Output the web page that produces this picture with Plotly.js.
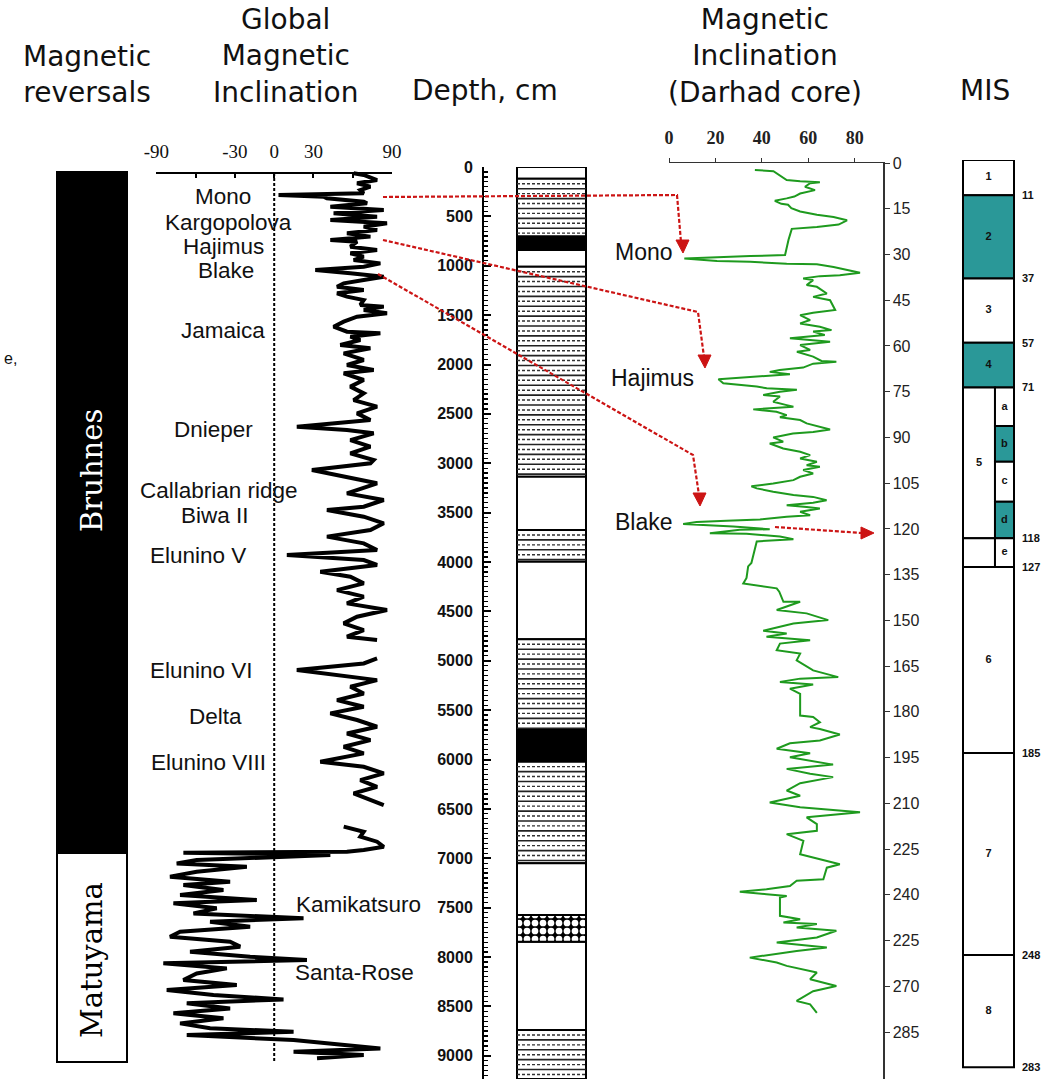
<!DOCTYPE html>
<html><head><meta charset="utf-8">
<script src="https://cdn.plot.ly/plotly-3.0.1.min.js"></script>
<style>html,body{margin:0;padding:0;background:#fff}</style>
</head><body><div id="chart" style="width:1056px;height:1079px"></div>
<script>
const W = 1056, H = 1079;
const px = x => x / W, py = y => 1 - y / H;

// ---------------- DATA ----------------
// Magnetic reversals (on depth scale, cm)
const reversalNames = ['Bruhnes', 'Matuyama'];
const reversalTop = [51, 6947];
const reversalBottom = [6947, 9063];
const reversalFill = ['black', 'white'];

// Global magnetic inclination (degrees) vs depth (cm); null = gap
const globalDepth = [64,81,132,165,199,233,267,284,300,317,351,368,402,435,469,503,537,570,604,638,672,705,739,756,807,841,874,908,942,976,1009,1043,1077,1111,1144,1178,1212,1246,1279,1313,1347,1397,1414,1448,1482,1516,1566,1617,1668,1684,1718,1752,1803,1836,1887,1954,2005,2056,2089,2157,2224,2292,2360,2427,2495,2562,2630,2663,2697,2765,2832,2900,2967,
3001,3068,3136,3203,3305,3372,3440,3473,3541,3608,3676,3743,3811,3878,3929,3980,4030,4098,4149,4216,4284,4351,4419,4486,4554,4621,4689,4756,4790,null,
4976,5027,5094,5162,5196,5263,5331,5398,5466,5533,5600,5668,5736,5803,5871,5938,6022,6073,6141,6208,6276,6343,6411,6461,null,
6680,6731,6781,6832,6883,6917,6934,6944,6967,7018,7052,7085,7136,7186,7237,7271,7322,7372,7423,7456,7507,7558,7608,7642,7693,7743,7794,7845,7895,7946,7997,8030,8064,8115,8166,8233,8284,8334,8385,8429,8469,8520,8570,8621,8672,8722,8756,8790,8840,8891,8925,8958,8992,9026];
const globalIncl = [60.7,68.4,78.6,63.3,73.5,65.8,68.4,3.3,37.8,40.3,68.4,70.9,42.9,83.7,45.4,78.6,42.9,86.2,68.4,78.6,55.6,73.5,42.9,63.3,58.2,78.6,58.2,68.4,60.7,81.1,68.4,31.4,58.2,83.7,68.4,53.1,48.0,68.4,48.0,55.6,68.4,65.8,83.7,68.4,86.2,63.3,53.1,45.4,55.6,81.1,58.2,65.8,50.5,73.5,53.1,68.4,55.6,76.0,53.1,68.4,58.2,68.4,60.7,78.6,63.3,73.5,17.3,55.6,76.0,58.2,73.5,58.2,76.0,
73.5,28.8,55.6,78.6,55.6,83.7,68.4,40.3,68.4,83.7,73.5,40.3,68.4,78.6,9.7,68.4,78.6,35.2,58.2,68.4,48.0,68.4,55.6,86.2,63.3,53.1,68.4,55.6,78.6,null,
78.6,68.4,17.3,55.6,78.6,58.2,68.4,48.0,68.4,42.9,63.3,78.6,55.6,73.5,53.1,68.4,35.2,68.4,83.7,65.8,78.6,60.7,73.5,83.7,null,
53.1,68.4,65.8,78.6,83.7,68.4,55.6,-69.4,42.9,-59.2,-74.5,-20.9,-59.2,-79.6,-33.7,-69.4,-38.8,-71.9,-13.3,-77.0,-43.9,-61.7,22.4,-49.0,-18.4,-71.9,-79.6,-33.7,-26.0,-64.3,-18.4,25.0,-84.7,-36.2,-59.2,-69.4,-28.6,-82.1,-46.4,7.1,-66.8,-33.7,-77.0,-38.8,-71.9,-49.0,14.8,-66.8,14.8,55.6,81.1,14.8,68.4,32.7];

// Global excursion names and their depth (cm)
const globalEvents = ['Mono','Kargopolova','Hajimus','Blake','Jamaica','Dnieper','Callabrian ridge','Biwa II','Elunino V','Elunino VI','Delta','Elunino VIII','Kamikatsuro','Santa-Rose'];
const globalEventDepth = [301,567,810,1050,1658,2653,3276,3524,3929,5094,5567,6035,7473,8159];

// Lithology column (depth, cm)
const lithoTop =    [0,  120, 705, 840, 1010, 3136, 3676, 3997, 4783, 5701, 6022, 7051, 7575, 7845, 8739];
const lithoBottom = [120,705, 840, 1010,3136, 3676, 3997, 4783, 5701, 6022, 7051, 7575, 7845, 8739, 9235];
const lithoType = ['white','hatch','black','white','hatch','white','hatch','white','hatch','black','hatch','white','check','white','hatch'];
const depthTicks = [0,500,1000,1500,2000,2500,3000,3500,4000,4500,5000,5500,6000,6500,7000,7500,8000,8500,9000];

// Darhad core inclination (degrees) vs age (ka)
const darhadAge = [2.3,2.7,5.6,6.0,6.3,6.6,7.8,8.9,10,11,11.6,12.4,13.4,13.7,14.8,15.9,17,17.7,18.8,20.2,21,21.6,25.2,30.2,30.5,30.7,31.0,31.3,32.1,32.4,33,33.2,34.1,36,36.8,37.1,37.9,38.4,40,40.6,42.8,43.9,45,48.2,49.1,49.9,51.5,52.6,53.7,54.8,55.3,56.4,57.5,58.2,58.6,59.7,61.3,61.9,63.5,64.9,65.2,65.8,67.1,67.9,68.5,69.3,69.9,70.4,70.9,72.2,72.8,73.3,73.9,74.2,74.4,75,76.1,76.6,78.3,79.4,79.9,80.8,81.6,82.7,83.4,84.3,85.4,87.4,88.2,88.7,90,91.4,92,93.6,94.7,95.8,96.9,98,99.1,99.6,100.7,101.8,102.9,104,105.1,106,106.7,107.8,108.9,109.5,110.6,111.4,112.2,112.8,113.3,114.4,115.5,116,116.9,117.3,117.7,118.4,118.6,119.2,120.1,120.3,121.4,121.6,122.5,123.4,124.1,126.8,131.2,132.3,136.1,137.9,139.5,140.6,143.9,143.9,146.6,147.7,149.9,151,153.4,154.3,155.4,156.5,157.6,159.8,160.9,163.1,166.4,168.6,169.1,170.2,171,172.4,174.1,181.2,181.7,183.4,185,185.6,187.4,189.4,190.3,192.1,193.6,194.9,197.3,198.7,200.3,201.4,203.4,205.8,207.5,209.7,211.3,212.9,214.6,216.8,219,220.1,222.3,226.7,228.9,230,231.1,234.9,235.4,237.1,238.2,239,239.8,240.4,240.9,246.9,248,249.1,249.6,250.7,251.8,254,255.6,257.3,258.4,260,260.6,262.2,263.3,265.5,267.7,269.9,271.6,274.8,275.9,278.7];
const darhadIncl = [37,45,50.7,56.5,65,60.8,58.6,62.9,56.5,54,50.7,45.6,48.4,51.3,52.7,56.5,63.7,70.9,76.7,73.1,63.7,52.9,51.5,50,35,27.9,16.4,6.6,20.7,35,50.7,63.7,70.9,82.3,73.6,65,57.8,62.1,59.3,63.7,68,62.1,69.4,71.6,62.1,56.5,60.8,56.5,65,70,62.1,67.1,52.1,62.1,69.4,56.5,60.8,55.1,62.1,65.7,72.1,62.1,57.8,47.7,43.4,52.1,39.2,27.7,21.3,23.4,32,37.8,42.1,47.8,55.1,47.8,40.6,47.8,44.9,50.7,53.6,36.3,46.3,50.7,47.8,56.5,59.3,69.4,62.1,53.4,44.9,49.2,43.4,49.2,56.5,60.8,56.5,63.7,59.3,65,57.8,62.1,56.5,53.6,44.9,35.5,37.8,44.9,53.6,62.1,67.9,62.1,50.7,59.3,65,56.5,60.8,50.7,39.2,24.8,11.9,6.1,13.4,27.7,43.4,30.5,17.6,33.4,47.8,53.6,37.8,37,35.5,34.1,33.4,32,46.4,47.5,49.3,56.5,46.4,59.3,68.6,53.6,40.6,50.7,42,60.8,47.8,46.4,56.5,55,62.1,72.9,56.5,47.8,62.1,52.1,56.5,56.5,62.1,65,60.8,65,73.6,65,52.1,46.4,60.8,52.1,70.7,50.7,60.8,70.7,56.5,50.7,56.5,43.4,56.5,82.3,59.3,63.7,63.7,50.7,57.9,56.5,68,73.6,68,66.5,55,52.1,42,30.5,42,50.7,47.8,47.8,56.5,49.3,63.7,55,72.1,63.7,46.4,68,55,40.6,34.8,46.4,50.7,63.7,60.8,72.1,62.1,55,60.8,63.7];
const darhadEvents = ['Mono','Hajimus','Blake'];
const darhadEventAge = [29.2, 70.5, 117.7];
const ageTicks = [0,15,30,45,60,75,90,105,120,135,150,165,180,195,210,225,240,255,270,285];
const ageTickText = ['0','15','30','45','60','75','90','105','120','135','150','165','180','195','210','225','240','225','270','285'];
const inclTicks = [0,20,40,60,80];
const globalTicks = [-90,-60,-30,0,30,60,90];
const globalTickText = ['-90','','-30','0','30','','90'];

// Marine isotope stages (ka)
const misLabel =  ['1','2','3','4','5','','a','b','c','d','e','6','7','8'];
const misTop =    [0, 11, 37, 57, 71, 118, 71, 83, 94.1, 106.6, 118, 127, 185, 248];
const misBottom = [11,37, 57, 71, 118,127, 83, 94.1,106.6,118, 127, 185, 248, 283];
const misLevel =  ['full','full','full','full','left','left','sub','sub','sub','sub','sub','full','full','full'];
const misWarm =   [0,1,0,1,0,0,0,1,0,1,0,0,0,0];
const misBoundaries = [11,37,57,71,118,127,185,248,283];

// ---------------- STYLE ----------------
const TEAL = '#2a9898', RED = '#cc1414', GREEN = '#1e9a1e';
const SANS = 'Liberation Sans, Arial, sans-serif';
const SERIF = 'Liberation Serif, Times New Roman, serif';
const TITLE = 'DejaVu Sans, sans-serif';

function colAxis(x0, x1, pad) {
  const w = x1 - x0;
  return {domain: [(x0 - pad) / W, (x1 + pad) / W], range: [-pad / w, 1 + pad / w], visible: false, fixedrange: true};
}

// ---------------- TRACES ----------------
const traces = [];

traces.push({type: 'bar', xaxis: 'x', yaxis: 'y2',
  x: reversalNames.map(() => 0.5), width: reversalNames.map(() => 1),
  base: reversalTop, y: reversalBottom.map((b, i) => b - reversalTop[i]),
  marker: {color: reversalFill, line: {color: 'black', width: 2}}, hoverinfo: 'skip'});

traces.push({type: 'scatter', mode: 'lines', xaxis: 'x2', yaxis: 'y2',
  x: globalIncl, y: globalDepth, connectgaps: false,
  line: {color: 'black', width: 4}, hoverinfo: 'skip'});

const lithoMain = lithoType.map((t, i) => i).filter(i => lithoType[i] !== 'check');
traces.push({type: 'bar', xaxis: 'x3', yaxis: 'y2',
  x: lithoMain.map(() => 0.5), width: lithoMain.map(() => 1),
  base: lithoMain.map(i => lithoTop[i]), y: lithoMain.map(i => lithoBottom[i] - lithoTop[i]),
  marker: {color: lithoMain.map(i => lithoType[i] === 'black' ? 'black' : 'white'), line: {color: 'black', width: 2}},
  hoverinfo: 'skip'});
const lithoChk = lithoType.map((t, i) => i).filter(i => lithoType[i] === 'check');
traces.push({type: 'bar', xaxis: 'x3', yaxis: 'y2',
  x: lithoChk.map(() => 0.5), width: lithoChk.map(() => 1),
  base: lithoChk.map(i => lithoTop[i]), y: lithoChk.map(i => lithoBottom[i] - lithoTop[i]),
  marker: {color: 'black', line: {color: 'black', width: 2},
    pattern: {shape: '.', fgcolor: 'white', bgcolor: 'black', size: 8, solidity: 0.55, fillmode: 'replace'}},
  hoverinfo: 'skip'});
const hs = {x: [], y: []}, hd = {x: [], y: []};
lithoType.forEach((t, i) => {
  if (t !== 'hatch') return;
  const a = lithoTop[i], b = lithoBottom[i];
  for (let d = a + 50; d < b - 15; d += 100) { hd.x.push(0, 1, null); hd.y.push(d, d, null); }
  for (let d = a + 100; d < b - 15; d += 100) { hs.x.push(0, 1, null); hs.y.push(d, d, null); }
});
traces.push({type: 'scatter', mode: 'lines', xaxis: 'x3', yaxis: 'y2', x: hs.x, y: hs.y,
  line: {color: '#222', width: 1.6}, hoverinfo: 'skip'});
traces.push({type: 'scatter', mode: 'lines', xaxis: 'x3', yaxis: 'y2', x: hd.x, y: hd.y,
  line: {color: '#333', width: 1.4, dash: '3px,2px'}, hoverinfo: 'skip'});

traces.push({type: 'scatter', mode: 'lines', xaxis: 'x4', yaxis: 'y4',
  x: darhadIncl, y: darhadAge, line: {color: GREEN, width: 2}, hoverinfo: 'skip'});

const lvlX = {full: [0.5, 1], left: [0.3135, 0.627], sub: [0.8135, 0.373]};
traces.push({type: 'bar', xaxis: 'x5', yaxis: 'y5',
  x: misLevel.map(l => lvlX[l][0]), width: misLevel.map(l => lvlX[l][1]),
  base: misTop, y: misBottom.map((b, i) => b - misTop[i]),
  marker: {color: misWarm.map(w => w ? TEAL : 'white'), line: {color: 'black', width: 2}}, hoverinfo: 'skip'});
traces.push({type: 'scatter', mode: 'text', xaxis: 'x5', yaxis: 'y5',
  x: misLevel.map(l => lvlX[l][0]), y: misBottom.map((b, i) => (b + misTop[i]) / 2),
  text: misLabel, textposition: 'middle center',
  textfont: {family: SANS, size: 11, color: '#111', weight: 'bold'}, hoverinfo: 'skip'});

// ---------------- LAYOUT ----------------
const annotations = [];
const titles = [['Magnetic<br>reversals', 87, 74], ['Global<br>Magnetic<br>Inclination', 286, 56],
  ['Depth, cm', 485, 91], ['Magnetic<br>Inclination<br>(Darhad core)', 765, 56], ['MIS', 985, 91]];
titles.forEach(([t, x, y]) => annotations.push({text: t, xref: 'paper', yref: 'paper', x: px(x), y: py(y),
  xanchor: 'center', yanchor: 'middle', align: 'center', showarrow: false, font: {family: TITLE, size: 28, color: '#111'}}));

const globalEventX = [223, 228, 223, 226, 223, 213, 219, 215, 198, 201, 215, 208, 358, 354];
globalEvents.forEach((t, i) => annotations.push({text: t, xref: 'paper', yref: 'y2', x: px(globalEventX[i]), y: globalEventDepth[i],
  xanchor: 'center', yanchor: 'middle', showarrow: false, font: {family: SANS, size: 22.5, color: '#111'}}));

const darhadEventX = [644, 652, 644];
darhadEvents.forEach((t, i) => annotations.push({text: t, xref: 'paper', yref: 'y4', x: px(darhadEventX[i]), y: darhadEventAge[i],
  xanchor: 'center', yanchor: 'middle', showarrow: false, font: {family: SANS, size: 23, color: '#111'}}));

const reversalLabelDepth = [3078, 8030];
reversalNames.forEach((t, i) => annotations.push({text: t, xref: 'x', yref: 'y2', x: 0.5, y: reversalLabelDepth[i],
  textangle: -90, xanchor: 'center', yanchor: 'middle', showarrow: false,
  font: {family: 'DejaVu Serif, serif', size: 29, color: reversalFill[i] === 'black' ? 'white' : 'black'}}));

annotations.push({text: 'e,', xref: 'paper', yref: 'paper', x: px(10), y: py(358), showarrow: false,
  xanchor: 'center', yanchor: 'middle', font: {family: SANS, size: 16, color: '#111'}});

const P = (x, y) => px(x).toFixed(5) + ',' + py(y).toFixed(5);
const arrowPaths = [
  [[383, 197], [677, 195], [681, 242]],
  [[383, 240], [698, 312], [704, 357]],
  [[378, 274], [693, 455], [699, 495]],
  [[775, 527], [862, 533]]];
const heads = [
  [[676, 240], [689, 240], [683, 253]],
  [[698, 355], [711, 355], [705, 368]],
  [[693, 493], [706, 493], [700, 506]],
  [[861, 527], [861, 539], [874, 533]]];
const shapes = [];
arrowPaths.forEach(p => shapes.push({type: 'path', xref: 'paper', yref: 'paper',
  path: 'M' + p.map(q => P(q[0], q[1])).join(' L'), line: {color: RED, width: 2.2, dash: '4px,2px'}}));
heads.forEach(p => shapes.push({type: 'path', xref: 'paper', yref: 'paper',
  path: 'M' + p.map(q => P(q[0], q[1])).join(' L') + ' Z', fillcolor: RED, line: {color: RED, width: 1}}));
shapes.push({type: 'line', xref: 'x2', yref: 'y2', x0: 0, x1: 0, y0: 60, y1: 9063,
  line: {color: 'black', width: 2, dash: '3px,2px'}});

const layout = {
  width: W, height: H, margin: {l: 0, r: 0, t: 0, b: 0},
  paper_bgcolor: 'white', plot_bgcolor: 'rgba(0,0,0,0)', showlegend: false, barmode: 'overlay',
  xaxis: Object.assign(colAxis(57, 127, 2), {anchor: 'y2'}),
  yaxis2: {domain: [0, py(167)], range: [9235, 0], anchor: 'free', position: px(483), side: 'left',
    showline: true, linecolor: 'black', linewidth: 2, showgrid: false, zeroline: false,
    tickvals: depthTicks, ticks: 'inside', ticklen: 7, tickwidth: 2, tickcolor: 'black', ticklabelstandoff: 6,
    tickfont: {family: SANS, size: 16, color: '#111', weight: 'bold'},
    minor: {dtick: 50, ticks: 'inside', ticklen: 4, tickwidth: 1.3, tickcolor: 'black', showgrid: false}},
  xaxis2: {domain: [px(156.4), px(392)], range: [-90, 90], side: 'top', anchor: 'free', position: py(173),
    showline: true, linecolor: 'black', linewidth: 2, showgrid: false, zeroline: false,
    tickvals: globalTicks, ticktext: globalTickText, ticks: 'inside', ticklen: 4, tickwidth: 2, tickcolor: 'black',
    ticklabelstandoff: 6, tickfont: {family: SERIF, size: 19, color: '#111'}},
  xaxis3: Object.assign(colAxis(517, 586, 2), {anchor: 'y2'}),
  xaxis4: {domain: [px(669), px(883)], range: [0, 92.2], side: 'top', anchor: 'y4',
    showline: true, linecolor: '#333', linewidth: 1.5, showgrid: false, zeroline: false,
    tickvals: inclTicks, ticks: 'outside', ticklen: 4, tickcolor: '#333', ticklabelstandoff: 6,
    tickfont: {family: SERIF, size: 18, color: '#222', weight: 'bold'}},
  yaxis4: {domain: [0, py(163)], range: [300.4, 0], side: 'right', anchor: 'x4',
    showline: true, linecolor: '#333', linewidth: 1.5, showgrid: false, zeroline: false,
    tickvals: ageTicks, ticktext: ageTickText, ticks: 'outside', ticklen: 5, tickcolor: '#333',
    tickfont: {family: SANS, size: 16, color: '#222'}},
  xaxis5: Object.assign(colAxis(963, 1014, 2), {anchor: 'y5'}),
  yaxis5: {domain: [0, py(160)], range: [286.7, 0], anchor: 'free', position: px(1021), side: 'right',
    showline: false, showgrid: false, zeroline: false, ticks: '', tickvals: misBoundaries,
    tickfont: {family: SANS, size: 11, color: '#111', weight: 'bold'}},
  annotations: annotations, shapes: shapes
};

Plotly.newPlot('chart', traces, layout, {staticPlot: true, displayModeBar: false});
</script></body></html>
